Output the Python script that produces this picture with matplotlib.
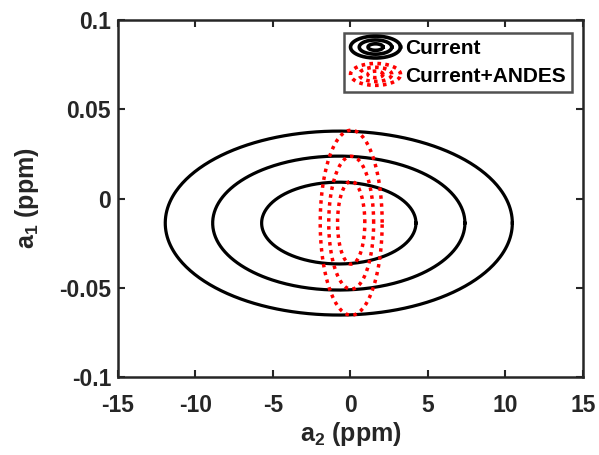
import numpy as np
import matplotlib.pyplot as plt
from matplotlib.legend_handler import HandlerBase
from matplotlib.lines import Line2D

plt.rcParams['font.family'] = ['Liberation Sans', 'DejaVu Sans']
plt.rcParams['font.weight'] = 'bold'
plt.rcParams['axes.labelweight'] = 'bold'
plt.rcParams['axes.unicode_minus'] = False
plt.rcParams['mathtext.fontset'] = 'custom'
plt.rcParams['mathtext.default'] = 'bf'
plt.rcParams['mathtext.bf'] = 'Liberation Sans:bold'
plt.rcParams['mathtext.rm'] = 'Liberation Sans:bold'

# ellipses (1,2,3 sigma contours)
cur_x0, cur_y0 = -0.75, -0.0137
cur_ax = [4.98, 8.14, 11.2]        # half widths in a2 (ppm)
cur_ay = [0.0229, 0.0375, 0.0515]  # half heights in a1 (ppm)

andes_x0, andes_y0 = 0.05, -0.0135
andes_ax = [0.88, 1.45, 2.0]
andes_ay = [0.0232, 0.0372, 0.0518]

t = np.linspace(0, 2 * np.pi, 400)

fig = plt.figure(figsize=(5.99, 4.55), dpi=100)
ax = fig.add_axes([0.197, 0.171, 0.776, 0.785])

for a, b in zip(cur_ax, cur_ay):
    ax.plot(cur_x0 + a * np.cos(t), cur_y0 + b * np.sin(t), color='k', lw=2.3)
for a, b in zip(andes_ax, andes_ay):
    ax.plot(andes_x0 + a * np.cos(t), andes_y0 + b * np.sin(t), color='r',
            lw=2.5, linestyle=(0, (1, 1.3)))

ax.set_xlim(-15, 15)
ax.set_ylim(-0.1, 0.1)
ax.set_xticks([-15, -10, -5, 0, 5, 10, 15])
ax.set_yticks([-0.1, -0.05, 0, 0.05, 0.1])
ax.set_yticklabels(['-0.1', '-0.05', '0', '0.05', '0.1'])
ax.tick_params(direction='in', top=True, right=True, length=5, width=1.5,
               labelsize=16.5, colors='#262626', pad=5)
ax.tick_params(axis='x', pad=12)
for s in ax.spines.values():
    s.set_linewidth(1.8)
    s.set_color('#262626')
ax.set_xlabel(r'a$_\mathbf{2}$ (ppm)', fontsize=18, fontweight='bold',
              color='#262626', labelpad=2)
ax.set_ylabel(r'a$_\mathbf{1}$ (ppm)', fontsize=18, fontweight='bold',
              color='#262626', labelpad=13)


class EllHandler(HandlerBase):
    def __init__(self, color, ls, lw):
        super().__init__()
        self.color, self.ls, self.lw = color, ls, lw

    def create_artists(self, legend, orig, xd, yd, w, h, fs, trans):
        arts = []
        cx, cy = xd + w / 2, yd + h / 2
        for f in [0.3, 0.65, 1.0]:
            ln = Line2D(cx + f * w / 2 * np.cos(t), cy + f * h * 0.75 * np.sin(t),
                        color=self.color, lw=self.lw, linestyle=self.ls,
                        transform=trans)
            arts.append(ln)
        return arts


h1 = Line2D([], [], color='k')
h2 = Line2D([], [], color='r')
leg = ax.legend([h1, h2], ['Current', 'Current+ANDES'],
                handler_map={h1: EllHandler('k', '-', 2.6),
                             h2: EllHandler('r', (0, (1, 1.2)), 2.6)},
                loc='upper right', bbox_to_anchor=(0.985, 0.975),
                fontsize=15, frameon=True, fancybox=False, handlelength=2.4,
                handletextpad=0.2, borderpad=0.3, labelspacing=0.4,
                borderaxespad=0.2)
leg.get_frame().set_edgecolor('#262626')
leg.get_frame().set_linewidth(1.8)

fig.savefig('out.png', dpi=100)
